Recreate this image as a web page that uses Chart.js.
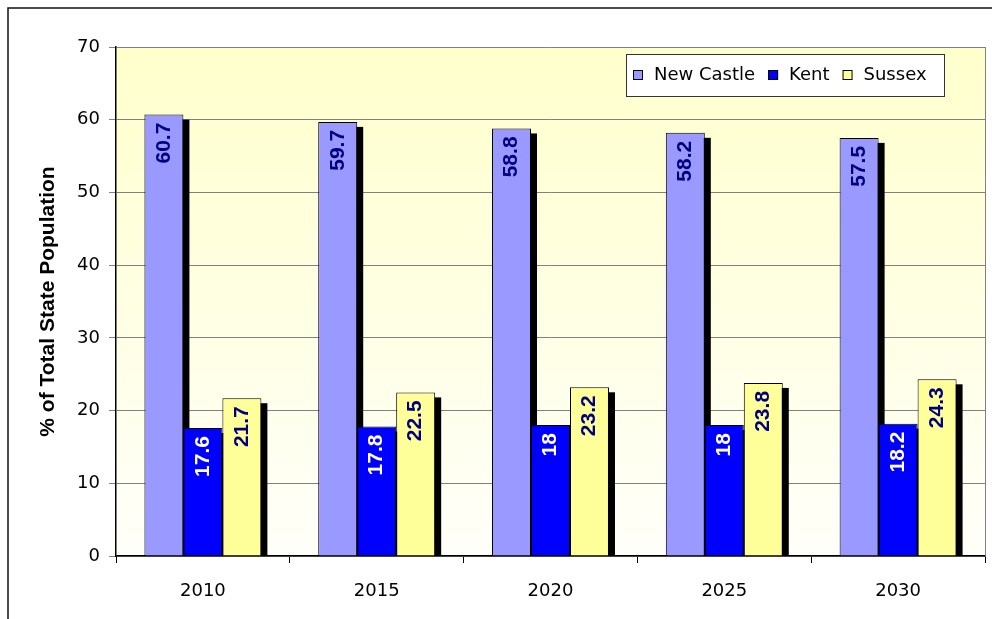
<!DOCTYPE html>
<html>
<head>
<meta charset="utf-8">
<title>Delaware county population share</title>
<script src="https://cdn.jsdelivr.net/npm/chart.js@4/dist/chart.umd.min.js"></script>
<style>
  html, body { margin: 0; padding: 0; background: #fff; }
  #wrap { width: 992px; height: 619px; }
</style>
</head>
<body>
<div id="wrap"><canvas id="chart1" width="992" height="619"></canvas></div>
<script>
// share of state population by county, projections
const years = ['2010', '2015', '2020', '2025', '2030'];
const newCastle = [60.7, 59.7, 58.8, 58.2, 57.5];
const kent = [17.6, 17.8, 18, 18, 18.2];
const sussex = [21.7, 22.5, 23.2, 23.8, 24.3];
const yTicks = [0, 10, 20, 30, 40, 50, 60, 70];

const seriesNames = ['New Castle', 'Kent', 'Sussex'];
const seriesColors = ['#9999ff', '#0000ff', '#ffff99'];
const labelColors = ['#000080', '#ffffff', '#000080'];

const tickFont = { family: 'DejaVu Sans', size: 18 };

// page frame + plot gradient
const backdrop = {
  id: 'backdrop',
  beforeDraw(chart) {
    const ctx = chart.ctx;
    const a = chart.chartArea;
    ctx.save();
    ctx.fillStyle = '#fff';
    ctx.fillRect(0, 0, chart.width, chart.height);
    ctx.strokeStyle = '#111';
    ctx.lineWidth = 1.5;
    ctx.beginPath();
    ctx.moveTo(8, chart.height);
    ctx.lineTo(8, 8);
    ctx.lineTo(chart.width, 8);
    ctx.stroke();
    const g = ctx.createLinearGradient(0, a.top, 0, a.bottom);
    g.addColorStop(0, '#ffffcc');
    g.addColorStop(1, '#fffffa');
    ctx.fillStyle = g;
    ctx.fillRect(a.left, a.top, a.right - a.left, a.bottom - a.top);
    ctx.restore();
  },
  afterDraw(chart) {
    const ctx = chart.ctx;
    const a = chart.chartArea;
    ctx.save();
    ctx.strokeStyle = '#808080';
    ctx.lineWidth = 1;
    ctx.beginPath();
    ctx.moveTo(a.right + 0.5, a.top);
    ctx.lineTo(a.right + 0.5, a.bottom);
    ctx.stroke();
    ctx.restore();
  }
};

// black drop shadow behind each bar
const barShadow = {
  id: 'barShadow',
  beforeDatasetsDraw(chart) {
    const ctx = chart.ctx;
    const a = chart.chartArea;
    ctx.save();
    ctx.beginPath();
    ctx.rect(a.left, a.top, a.right - a.left, a.bottom - a.top);
    ctx.clip();
    ctx.fillStyle = '#000';
    chart.data.datasets.forEach((ds, i) => {
      chart.getDatasetMeta(i).data.forEach(bar => {
        ctx.fillRect(bar.x - bar.width / 2 + 6, bar.y + 5, bar.width, bar.base - bar.y);
      });
    });
    ctx.restore();
  }
};

// vertical value labels inside the top of each bar
const valueLabels = {
  id: 'valueLabels',
  afterDatasetsDraw(chart) {
    const ctx = chart.ctx;
    ctx.save();
    ctx.font = 'bold 21px "Liberation Sans", Arial, sans-serif';
    ctx.textAlign = 'right';
    ctx.textBaseline = 'middle';
    chart.data.datasets.forEach((ds, i) => {
      ctx.fillStyle = labelColors[i];
      chart.getDatasetMeta(i).data.forEach((bar, j) => {
        ctx.save();
        ctx.translate(bar.x, bar.y + 8);
        ctx.rotate(-Math.PI / 2);
        ctx.fillText(String(ds.data[j]), 0, 0);
        ctx.restore();
      });
    });
    ctx.restore();
  }
};

// boxed legend in the upper right of the plot
const boxLegend = {
  id: 'boxLegend',
  afterDraw(chart) {
    const ctx = chart.ctx;
    const x0 = 626, y0 = 54, w = 318, h = 42;
    ctx.save();
    ctx.fillStyle = '#fff';
    ctx.fillRect(x0, y0, w, h);
    ctx.strokeStyle = '#333';
    ctx.lineWidth = 1;
    ctx.strokeRect(x0 + 0.5, y0 + 0.5, w, h);
    ctx.font = '18px "DejaVu Sans"';
    ctx.textBaseline = 'middle';
    ctx.textAlign = 'left';
    let x = x0 + 7;
    const cy = y0 + h / 2;
    chart.data.datasets.forEach(ds => {
      ctx.fillStyle = ds.backgroundColor;
      ctx.fillRect(x, cy - 5, 10, 10);
      ctx.strokeStyle = '#000';
      ctx.strokeRect(x + 0.5, cy - 4.5, 9, 9);
      ctx.fillStyle = '#000';
      ctx.fillText(ds.label, x + 21, cy);
      x += 21 + ctx.measureText(ds.label).width + 13;
    });
    ctx.restore();
  }
};

const ds = {
  labels: years,
  datasets: [newCastle, kent, sussex].map((vals, i) => ({
    label: seriesNames[i],
    data: vals,
    backgroundColor: seriesColors[i],
    borderColor: '#000',
    borderWidth: 1,
    categoryPercentage: 0.673,
    barPercentage: 1
  }))
};

const options = {
  responsive: false,
  animation: false,
  devicePixelRatio: 1,
  layout: { padding: { top: 47, right: 7, left: 0, bottom: 0 } },
  plugins: {
    legend: { display: false },
    tooltip: { enabled: false }
  },
  scales: {
    x: {
      afterFit: scale => { scale.height = 63; },
      grid: { offset: true, drawOnChartArea: false, color: '#000', tickLength: 7 },
      border: { color: '#000', width: 1.5 },
      ticks: { color: '#000', font: tickFont, padding: 18 }
    },
    y: {
      min: 0,
      max: 70,
      afterFit: scale => { scale.width = 116; },
      afterBuildTicks: scale => { scale.ticks = yTicks.map(v => ({ value: v })); },
      grid: { color: '#808080', tickLength: 7 },
      border: { color: '#000', width: 1.5 },
      ticks: { color: '#000', font: tickFont, padding: 9 },
      title: {
        display: true,
        text: '% of Total State Population',
        color: '#000',
        font: { family: '"Liberation Sans", Arial, sans-serif', size: 21, weight: 'bold' },
        padding: { top: 36, bottom: 0 }
      }
    }
  }
};

const ctx1 = document.getElementById('chart1').getContext('2d');
const myBarChart = new Chart(ctx1, {
  type: 'bar',
  data: ds,
  options: options,
  plugins: [backdrop, barShadow, valueLabels, boxLegend]
});
</script>
</body>
</html>
